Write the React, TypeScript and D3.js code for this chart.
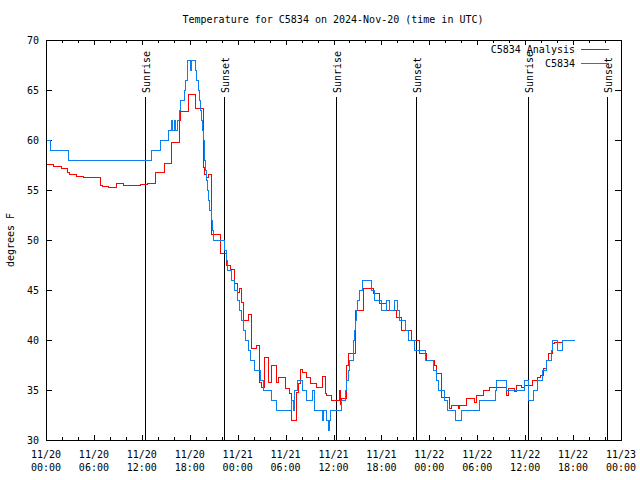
import React from 'react'
import * as d3 from 'd3'

// all times are hours after 2024-11-20 00:00 UTC
const START = Date.UTC(2024, 10, 20)
const HOUR = 3600 * 1000

const obsHours = [0, 0.5, 2.75, 13.2, 14.3, 15.25, 15.6, 15.8, 16.0, 16.2, 16.4, 16.6, 16.8, 17.3, 17.45, 17.6, 17.7, 18.0, 18.1, 18.6, 18.8, 19.0, 19.15, 19.3, 19.45, 19.55, 19.65, 19.75, 19.85, 20.0, 20.15, 20.3, 20.45, 20.6, 20.75, 20.9, 22.25, 22.5, 22.67, 23.2, 23.6, 23.9, 24.2, 24.45, 24.67, 24.9, 25.3, 25.5, 26.1, 26.75, 27.2, 28.2, 28.8, 30.7, 30.9, 31.0, 31.4, 32.0, 32.6, 33.25, 33.6, 34.5, 34.7, 35.1, 35.25, 35.4, 35.6, 36.95, 37.4, 37.6, 37.8, 38.0, 38.4, 38.5, 38.6, 38.7, 38.8, 39.0, 39.25, 39.6, 40.7, 41.1, 41.95, 42.6, 43.0, 43.6, 43.9, 44.2, 44.9, 45.3, 46.1, 47.4, 48.4, 48.875, 49.1, 49.875, 50.25, 51.25, 51.96, 54.25, 56.25, 56.4, 57.66, 59.875, 60.4, 61.0, 61.5, 62.1, 62.6, 63.2, 63.4, 63.96, 64.66, 66.1]
const obsTemps = [60, 59, 58, 59, 60, 61, 62, 61, 62, 61, 62, 63, 64, 65, 66, 67, 68, 67, 68, 67, 66, 65, 64, 63, 62, 61, 60, 58, 57, 56, 55, 54, 53, 52, 51, 50, 49, 48, 47, 46, 45, 44, 43, 42, 41, 40, 39, 38, 37, 36, 35, 34, 33, 34, 33, 35, 36, 35, 34, 35, 33, 32, 33, 32, 31, 32, 33, 34, 35, 36, 37, 38, 39, 40, 41, 42, 43, 44, 45, 46, 45, 44, 43, 44, 43, 44, 43, 42, 41, 40, 39, 38, 37, 36, 35, 34, 33, 32, 33, 34, 35, 36, 35, 36, 34, 35, 36, 37, 38, 39, 40, 39, 40, 40]

const anaHours = [0, 0.83, 1.83, 2.67, 2.9, 3.75, 4.67, 6.75, 6.96, 7.8, 8.8, 9.67, 11.75, 12.6, 13.6, 14.75, 15.7, 16.67, 16.8, 17.8, 18.6, 19.6, 19.65, 19.8, 20.0, 20.3, 20.7, 21.75, 22.6, 23.0, 23.6, 23.9, 24.2, 24.45, 24.67, 25.3, 25.7, 26.3, 26.67, 26.96, 27.25, 27.8, 28.2, 28.75, 29.04, 29.9, 30.4, 30.7, 31.25, 31.54, 31.8, 32.1, 32.6, 33.1, 33.8, 34.5, 34.9, 35.1, 35.7, 36.75, 36.85, 36.96, 37.6, 37.8, 38.75, 39.67, 40.9, 41.75, 42.6, 43.8, 44.45, 45.7, 46.67, 47.6, 48.6, 48.8, 49.46, 50.5, 50.7, 51.54, 51.75, 52.6, 53.6, 53.8, 54.66, 55.5, 57.6, 57.8, 58.6, 58.8, 59.46, 59.875, 60.8, 61.54, 61.8, 62.25, 62.6, 62.9, 63.4, 63.6, 64.66]
const anaTemps = [57.6, 57.4, 57.17, 56.8, 56.6, 56.4, 56.33, 55.5, 55.43, 55.33, 55.67, 55.5, 55.6, 55.73, 56.77, 57.67, 59.8, 62, 62.9, 64.6, 63.2, 60, 57.3, 56.6, 56.3, 56.6, 50.6, 48.67, 47.5, 47.07, 45.67, 44.83, 45.2, 43.8, 42, 42.6, 39.17, 39.5, 35.83, 35.33, 38.27, 35.83, 37.5, 35.83, 36.33, 35.17, 34.67, 32, 34.8, 35.67, 37.07, 36.8, 36.3, 35.7, 35.3, 36.4, 34.67, 34.5, 34.05, 35, 33.6, 34.2, 37.5, 38.67, 43, 45.17, 44.67, 43.67, 43, 42.27, 41, 40, 38.67, 38, 37.5, 36.67, 34.33, 33.17, 33.5, 33.17, 33.5, 34.17, 33.8, 34.5, 35, 35.33, 34.5, 35.17, 34.9, 35.5, 35.33, 35.5, 36, 36.3, 36.5, 37.2, 38, 38.67, 39.67, 39.83, 39.83]

const sunriseHours = [12.43, 36.3, 60.33]
const sunsetHours = [22.27, 46.3, 70.27]
const yTicks = [30, 35, 40, 45, 50, 55, 60, 65, 70]

const W = 640
const H = 480
const FONT = '"DejaVu Sans Mono", monospace'
const RED = '#ff0000'
const BLUE = '#0a80f0'

const toDate = (h: number) => new Date(START + h * HOUR)

const App = () => {
  const x = d3.scaleUtc().domain([toDate(0), toDate(72)]).range([46, 621])
  const y = d3.scaleLinear().domain([30, 70]).range([440, 40])

  const line = d3.line<[number, number]>()
    .x(d => Math.round(x(toDate(d[0]))) + 0.5)
    .y(d => Math.round(y(d[1])) + 0.5)
    .curve(d3.curveStepAfter)

  const obs = obsHours.map((h, i) => [h, obsTemps[i]] as [number, number])
  const ana = anaHours.map((h, i) => [h, anaTemps[i]] as [number, number])

  const major = x.ticks(d3.utcHour.every(6)!)
  const minor = x.ticks(d3.utcHour.every(2)!)
  const fmtDay = d3.utcFormat('%m/%d')
  const fmtTime = d3.utcFormat('%H:%M')

  const events = [
    ...sunriseHours.map(h => ({ h, label: 'Sunrise' })),
    ...sunsetHours.map(h => ({ h, label: 'Sunset' })),
  ]

  return (
    <svg width={W} height={H} style={{ position: 'absolute', left: 0, top: 0, background: '#fff' }}
      fontFamily={FONT} fontSize={10}>
      <rect width={W} height={H} fill="#fff" />
      <text x={333} y={23} textAnchor="middle">Temperature for C5834 on 2024-Nov-20 (time in UTC)</text>
      <text transform="translate(14,240) rotate(-90)" textAnchor="middle">degrees F</text>

      <g shapeRendering="crispEdges" stroke="#000">
        {yTicks.map(t => (
          <g key={t}>
            <line x1={46} x2={52} y1={Math.round(y(t)) + 0.5} y2={Math.round(y(t)) + 0.5} />
            <line x1={615} x2={621} y1={Math.round(y(t)) + 0.5} y2={Math.round(y(t)) + 0.5} />
          </g>
        ))}
        {minor.map(d => {
          const big = d.getUTCHours() % 6 === 0
          const px = Math.round(x(d)) + 0.5
          const len = big ? 5 : 3
          return (
            <g key={+d}>
              <line x1={px} x2={px} y1={440} y2={440 - len} />
              <line x1={px} x2={px} y1={40} y2={40 + len} />
            </g>
          )
        })}
      </g>

      {yTicks.map(t => (
        <text key={t} x={39} y={y(t) + 4} textAnchor="end">{t}</text>
      ))}
      {major.map(d => (
        <g key={+d}>
          <text x={x(d)} y={458} textAnchor="middle">{fmtDay(d)}</text>
          <text x={x(d)} y={471} textAnchor="middle">{fmtTime(d)}</text>
        </g>
      ))}

      {events.map(e => {
        const px = Math.round(x(toDate(e.h))) + 0.5
        return (
          <g key={e.label + e.h}>
            <line x1={px} x2={px} y1={440} y2={97} stroke="#000" shapeRendering="crispEdges" />
            <text transform={`translate(${px + 4},93) rotate(-90)`}>{e.label}</text>
          </g>
        )
      })}

      <path d={line(ana) || ''} fill="none" stroke={RED} strokeWidth={1} shapeRendering="crispEdges" />
      <path d={line(obs) || ''} fill="none" stroke={BLUE} strokeWidth={1} shapeRendering="crispEdges" />

      <rect x={46.5} y={40.5} width={575} height={400} fill="none" stroke="#000" shapeRendering="crispEdges" />

      <text x={575} y={53} textAnchor="end">C5834 Analysis</text>
      <line x1={581} x2={609} y1={49.5} y2={49.5} stroke={RED} shapeRendering="crispEdges" />
      <text x={575} y={67} textAnchor="end">C5834</text>
      <line x1={581} x2={609} y1={63.5} y2={63.5} stroke={BLUE} shapeRendering="crispEdges" />
    </svg>
  )
}

export default App
